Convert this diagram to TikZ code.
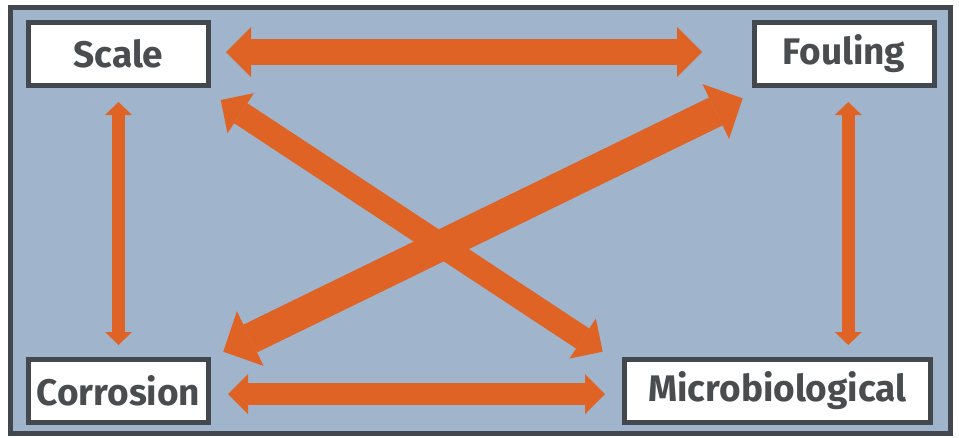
\documentclass[tikz,border=0pt]{standalone}
\usepackage{fontspec}
\setmainfont{Fira Sans}
\usetikzlibrary{arrows.meta}
\definecolor{bgblue}{HTML}{A0B5CC}
\definecolor{frame}{HTML}{42484D}
\definecolor{orng}{HTML}{E06326}
\definecolor{txt}{HTML}{4A4D4F}
\tikzset{
  box/.style={draw=frame, line width=5pt, fill=white, minimum height=63pt,
    inner sep=0pt, font=\fontsize{37}{42}\selectfont\bfseries, text=txt},
  dblarrow/.style n args={3}{draw=orng, line width=#1,
    {Triangle[width=#2,length=#3,line width=0pt]}-{Triangle[width=#2,length=#3,line width=0pt]}}
}
\begin{document}
\begin{tikzpicture}[x=1pt,y=-1pt]
\useasboundingbox (0,0) rectangle (959,437);
\draw[frame, line width=5pt, fill=bgblue] (10.5,7.5) rectangle (950.5,433.5);
\node[box, minimum width=180pt] (scale) at (118.5,54) {Scale};
\node[box, minimum width=180pt] (fouling) at (844,54) {Fouling};
\node[box, minimum width=180pt] (corrosion) at (118.5,390.5) {Corrosion};
\node[box, minimum width=306pt] (micro) at (777.5,390.5) {Microbiological};
% arrow end points
\coordinate (sfA) at (226,52);
\coordinate (sfB) at (702,52);
\coordinate (cmA) at (228,394);
\coordinate (cmB) at (605,394);
\coordinate (scA) at (118.5,102);
\coordinate (scB) at (118.5,345);
\coordinate (fmA) at (848.3,102);
\coordinate (fmB) at (848.3,345);
\coordinate (smA) at (220.7,100);
\coordinate (smB) at (602.7,351.7);
\coordinate (fcA) at (742.7,98.3);
\coordinate (fcB) at (223.3,351.7);
\draw[dblarrow={26pt}{50pt}{25pt}] (sfA) -- (sfB);
\draw[dblarrow={22pt}{40pt}{20pt}] (cmA) -- (cmB);
\draw[dblarrow={13pt}{27pt}{13pt}] (scA) -- (scB);
\draw[dblarrow={13pt}{27pt}{13pt}] (fmA) -- (fmB);
\draw[dblarrow={24pt}{48pt}{24pt}] (smA) -- (smB);
\draw[dblarrow={31pt}{61pt}{30pt}] (fcA) -- (fcB);
\end{tikzpicture}
\end{document}
